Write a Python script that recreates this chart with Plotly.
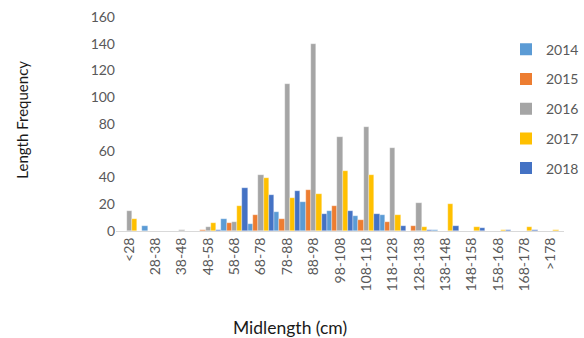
import plotly.graph_objects as go

categories = ["<28", "28-38", "38-48", "48-58", "58-68", "68-78", "78-88", "88-98",
              "98-108", "108-118", "118-128", "128-138", "138-148", "148-158",
              "158-168", "168-178", ">178"]
years = ["2014", "2015", "2016", "2017", "2018"]
v2014 = [0, 4, 0, 0, 9, 5, 14, 22, 15, 11, 12, 0, 1, 0, 0, 0, 0]
v2015 = [0, 0, 0, 1, 6, 12, 9, 31, 19, 8, 7, 4, 0, 0, 0, 0, 0]
v2016 = [15, 0, 1, 3, 7, 42, 110, 140, 70, 78, 62, 21, 0, 0, 0, 0, 0]
v2017 = [9, 0, 0, 6, 19, 40, 25, 28, 45, 42, 12, 3, 20, 3, 1, 3, 1]
v2018 = [0, 0, 0, 1, 32, 27, 30, 13, 15, 13, 4, 1, 4, 2, 1, 1, 0]
series = [v2014, v2015, v2016, v2017, v2018]
colors = ["#5B9BD5", "#ED7D31", "#A5A5A5", "#FFC000", "#4472C4"]

FONT = "Lato, 'Liberation Sans', sans-serif"

fig = go.Figure()
for name, vals, col in zip(years, series, colors):
    fig.add_trace(go.Bar(
        x=categories, y=vals, name=name, marker_color=col,
        marker_line=dict(width=0.5, color="rgba(255,255,255,0.6)"),
        showlegend=False,
    ))
for name, col in zip(years, colors):
    fig.add_trace(go.Scatter(
        x=[None], y=[None], mode="markers", name=name, legendgroup=name,
        marker=dict(symbol="square", size=7, color=col),
    ))

fig.update_layout(
    width=584, height=338,
    margin=dict(l=116, r=0, t=17, b=107),
    paper_bgcolor="white", plot_bgcolor="white",
    barmode="group", bargap=0.0, bargroupgap=0.0,
    font=dict(family=FONT, color="#595959", size=14),
    legend=dict(x=0.8715, y=0.922, xanchor="left", yanchor="top",
                bgcolor="rgba(0,0,0,0)", font=dict(size=14, color="#595959"),
                tracegroupgap=8.5, itemsizing="constant"),
    xaxis=dict(type="category", range=[-0.5, 16.5], tickangle=-90,
               showline=True, linecolor="#D9D9D9", linewidth=1,
               ticks="", showgrid=False, tickfont=dict(size=14, color="#595959")),
    yaxis=dict(range=[0, 160], dtick=20, showgrid=False, zeroline=False,
               showline=False, ticks="", tickfont=dict(size=14, color="#595959")),
    annotations=[
        dict(text="Midlength (cm)", xref="paper", yref="paper", x=0.389, y=-0.452,
             xanchor="center", yanchor="middle", showarrow=False,
             font=dict(size=17.5, color="#1a1a1a")),
        dict(text="Length Frequency", xref="paper", yref="paper", x=-0.21, y=0.52,
             xanchor="center", yanchor="middle", showarrow=False, textangle=-90,
             font=dict(size=15, color="#1a1a1a")),
    ],
)

fig.write_html("out.html")
